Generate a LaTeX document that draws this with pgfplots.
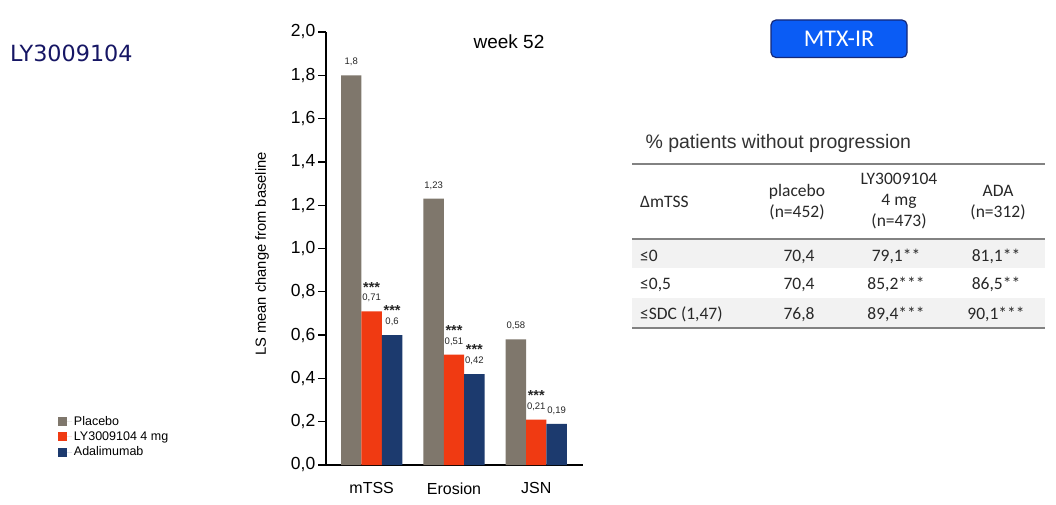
\documentclass[border=0pt]{standalone}
\usepackage{pgfplots}
\pgfplotsset{compat=1.18}
\usepackage{fontspec}
\setmainfont{Liberation Sans}
\newfontfamily\calfont{Carlito}
\newfontfamily\djfont{DejaVu Sans}
\definecolor{cPla}{RGB}{127,119,108}
\definecolor{cLY}{RGB}{240,58,18}
\definecolor{cADA}{RGB}{28,58,110}
\definecolor{navytxt}{RGB}{22,22,100}
\definecolor{btnblue}{RGB}{10,92,245}
\definecolor{btnedge}{RGB}{20,40,120}
\definecolor{rowgray}{RGB}{242,242,242}
\definecolor{rulegray}{RGB}{130,130,130}
\definecolor{tabtxt}{RGB}{40,40,40}
\newcommand\sig[1]{\vbox{\baselineskip=8.7pt\lineskiplimit=-20pt\halign{\hfil##\hfil\cr\fontsize{14.5}{15}\selectfont\bfseries***\cr #1\cr}}}
\begin{document}
\begin{tikzpicture}[x=1pt,y=1pt]
\path[use as bounding box] (0,0) rectangle (1056,504);
\fill[white] (0,0) rectangle (1056,504);
% title
\node[anchor=west, inner sep=0, text=navytxt, font=\djfont\fontsize{22.3}{26}\selectfont] at (10,451) {LY3009104};
% button
\draw[btnedge, line width=1.2pt, fill=btnblue, rounded corners=5pt] (771,446.5) rectangle (907,484);
\node[text=white, font=\calfont\fontsize{24}{28}\selectfont] at (839,465.5) {MTX-IR};
% chart texts
\node[rotate=90, font=\fontsize{14.7}{16}\selectfont] at (262,250) {LS mean change from baseline};
\node[font=\fontsize{19}{22}\selectfont] at (509,462) {week 52};
\begin{axis}[
  at={(326pt,39pt)}, anchor=south west,
  scale only axis, width=256.7pt, height=433pt,
  xmin=-0.555, xmax=2.564, ymin=0, ymax=2,
  axis x line*=bottom, axis y line*=left,
  axis line style={-, black, line width=1.5pt},
  ybar=0pt, bar width=20.4pt,
  ytick={0,0.2,0.4,0.6,0.8,1.0,1.2,1.4,1.6,1.8,2.0},
  yticklabel style={font=\fontsize{17.5}{20}\selectfont, inner xsep=2.5pt, /pgf/number format/.cd, use comma, fixed, fixed zerofill, precision=1, assume math mode=true},
  tick align=outside, major tick length=8pt,
  ytick style={black, line width=1.3pt},
  xtick={0,1,2}, xticklabels={mTSS,Erosion,JSN}, xtick style={draw=none},
  xticklabel style={font=\fontsize{16}{19}\selectfont, yshift=-6pt},
  nodes near coords, point meta=explicit symbolic,
  every node near coord/.append style={font=\fontsize{9.5}{11}\selectfont, text=black!85, anchor=base, inner sep=0pt, yshift=10.5pt},
  legend style={at={(-1.045,0.118)}, anchor=north west, draw=none, fill=none, font=\fontsize{12.5}{15}\selectfont, row sep=1pt, inner sep=0pt, cells={anchor=west}},
  legend image code/.code={\fill[#1] (0pt,-4.5pt) rectangle (9pt,4.5pt); \path (0pt,0pt) -- (14pt,0pt);},
  clip=false,
]
\addplot[fill=cPla, draw=none] coordinates {(0,1.8)[1,8] (1,1.23)[1,23] (2,0.58)[0,58]};
\addplot[fill=cLY, draw=none, nodes near coords={\sig{\pgfplotspointmeta}}] coordinates {(0,0.71)[0,71] (1,0.51)[0,51] (2,0.21)[0,21]};
\addplot[fill=cADA, draw=none, nodes near coords={\ifdim\pgfkeysvalueof{/data point/x}pt<1.5pt \sig{\pgfplotspointmeta}\else\pgfplotspointmeta\fi}] coordinates {(0,0.6)[0,6] (1,0.42)[0,42] (2,0.19)[0,19]};
\legend{Placebo, LY3009104 4 mg, Adalimumab}
\end{axis}
% table
\node[anchor=west, text=black!80, font=\fontsize{19.5}{23}\selectfont] at (642,361) {\% patients without progression};
\fill[rowgray] (632,236) rectangle (1045,264);
\fill[rowgray] (632,177) rectangle (1045,206);
\draw[rulegray, line width=1.8pt] (632,339.7) -- (1045,339.7);
\draw[rulegray, line width=1.8pt] (632,265) -- (1045,265);
\draw[rulegray, line width=1.8pt] (632,176) -- (1045,176);
\begin{scope}[every node/.style={text=tabtxt, font=\calfont\fontsize{17.5}{21}\selectfont, inner sep=0pt}]
\node[anchor=west] at (640,302) {ΔmTSS};
\node[align=center] at (797,301.5) {placebo\\(n=452)};
\node[align=center] at (899,303) {LY3009104\\4 mg\\(n=473)};
\node[align=center] at (998,301.5) {ADA\\(n=312)};
\node[anchor=base west] at (640,243) {≤0};
\node[anchor=base west] at (640,215) {≤0,5};
\node[anchor=base west] at (640,185) {≤SDC (1,47)};
\node[anchor=base] at (799,243) {70,4};
\node[anchor=base] at (799,215) {70,4};
\node[anchor=base] at (799,185) {76,8};
\node[anchor=base] at (896,243) {79,1**};
\node[anchor=base] at (896,215) {85,2***};
\node[anchor=base] at (896,185) {89,4***};
\node[anchor=base] at (996,243) {81,1**};
\node[anchor=base] at (996,215) {86,5**};
\node[anchor=base] at (996,185) {90,1***};
\end{scope}
\end{tikzpicture}
\end{document}
